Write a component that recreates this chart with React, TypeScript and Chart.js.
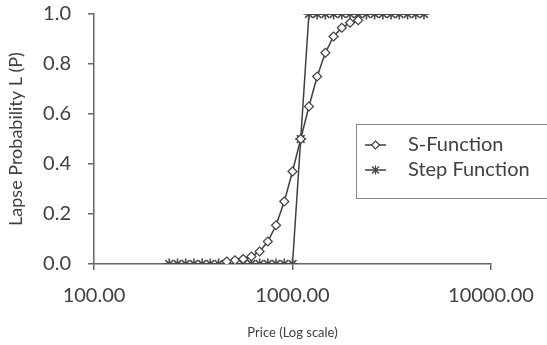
import React, { useEffect, useRef } from "react";
import { Chart, registerables } from "chart.js";

Chart.register(...registerables);

// Prices (log x axis)
const sPrices = [466.51, 513.16, 564.47, 620.92, 683.01, 751.31, 826.45, 909.09, 1000, 1100, 1210, 1331, 1464.1, 1610.51, 1771.56, 1948.72, 2143.59];
const sValues = [0.01, 0.015, 0.02, 0.03, 0.05, 0.09, 0.155, 0.25, 0.37, 0.5, 0.63, 0.75, 0.845, 0.91, 0.945, 0.965, 0.975];

const stepPrices = [239.39, 263.33, 289.66, 318.63, 350.49, 385.54, 424.1, 466.51, 513.16, 564.47, 620.92, 683.01, 751.31, 826.45, 909.09, 1000, 1100, 1210, 1331, 1464.1, 1610.51, 1771.56, 1948.72, 2143.59, 2357.95, 2593.74, 2853.12, 3138.43, 3452.27, 3797.5, 4177.25, 4594.97];
const stepValues = [0, 0, 0, 0, 0, 0, 0, 0, 0, 0, 0, 0, 0, 0, 0, 0, 0.5, 1, 1, 1, 1, 1, 1, 1, 1, 1, 1, 1, 1, 1, 1, 1];

const xTickValues = [100, 1000, 10000];
const seriesNames = ["S-Function", "Step Function"];
const xTitle = "Price (Log scale)";
const yTitle = "Lapse Probability L (P)";

const FONT = "Lato, 'Open Sans', sans-serif";
const TEXT = "#404040";
const AXIS = "#666666";
const LINE = "#404040";

const legendPlugin = {
  id: "boxLegend",
  afterDraw(chart: any) {
    const { ctx, chartArea } = chart;
    const left = chartArea.right - 135;
    const top = chartArea.top + 110;
    ctx.save();
    ctx.fillStyle = "#ffffff";
    ctx.fillRect(left, top, 220, 74);
    ctx.strokeStyle = "#888888";
    ctx.lineWidth = 1;
    ctx.strokeRect(left + 0.5, top + 0.5, 220, 74);
    const rows = [top + 21, top + 46];
    rows.forEach((y, i) => {
      ctx.strokeStyle = LINE;
      ctx.lineWidth = 1.5;
      ctx.beginPath();
      ctx.moveTo(left + 9, y);
      ctx.lineTo(left + 30, y);
      ctx.stroke();
      const cx = left + 19.5;
      ctx.lineWidth = 1.2;
      if (i === 0) {
        ctx.fillStyle = "#fff";
        ctx.beginPath();
        ctx.moveTo(cx, y - 4);
        ctx.lineTo(cx + 4, y);
        ctx.lineTo(cx, y + 4);
        ctx.lineTo(cx - 4, y);
        ctx.closePath();
        ctx.fill();
        ctx.stroke();
      } else {
        ctx.beginPath();
        ctx.moveTo(cx - 3.5, y - 3.5);
        ctx.lineTo(cx + 3.5, y + 3.5);
        ctx.moveTo(cx + 3.5, y - 3.5);
        ctx.lineTo(cx - 3.5, y + 3.5);
        ctx.moveTo(cx, y - 4.5);
        ctx.lineTo(cx, y + 4.5);
        ctx.stroke();
      }
      ctx.fillStyle = TEXT;
      ctx.font = `20px ${FONT}`;
      ctx.textBaseline = "middle";
      ctx.textAlign = "left";
      ctx.fillText(seriesNames[i], left + 52, y);
    });
    ctx.restore();
  },
};

export default function App() {
  const ref = useRef<HTMLCanvasElement>(null);
  useEffect(() => {
    if (!ref.current) return;
    const chart = new Chart(ref.current, {
      type: "line",
      data: {
        datasets: [
          {
            label: seriesNames[0],
            data: sPrices.map((x, i) => ({ x, y: sValues[i] })),
            borderColor: LINE,
            borderWidth: 1.5,
            pointStyle: "rectRot",
            pointRadius: 4.5,
            pointBackgroundColor: "#ffffff",
            pointBorderColor: LINE,
            pointBorderWidth: 1.2,
            tension: 0,
          },
          {
            label: seriesNames[1],
            data: stepPrices.map((x, i) => ({ x, y: stepValues[i] })),
            borderColor: LINE,
            borderWidth: 1.5,
            pointStyle: "star",
            pointRadius: 5.5,
            pointBorderColor: "#4a4a4a",
            pointBorderWidth: 1.6,
            tension: 0,
          },
        ],
      },
      options: {
        animation: false,
        responsive: true,
        maintainAspectRatio: false,
        layout: { autoPadding: false, padding: { top: 14, right: 56, left: 0, bottom: 0 } },
        plugins: { legend: { display: false }, tooltip: { enabled: false } },
        scales: {
          x: {
            type: "logarithmic",
            min: 100,
            max: 10000,
            afterBuildTicks: (scale: any) => {
              scale.ticks = xTickValues.map((v) => ({ value: v }));
            },
            afterFit: (scale: any) => {
              scale.height = 81;
              scale.paddingLeft = 0;
              scale.paddingRight = 0;
            },
            ticks: {
              autoSkip: false,
              maxRotation: 0,
              padding: 14,
              color: TEXT,
              font: { family: FONT, size: 20 },
              callback: (v: any) => Number(v).toFixed(2),
            },
            grid: { display: true, drawOnChartArea: false, drawTicks: true, tickLength: 6, color: AXIS, lineWidth: 1.5 },
            border: { display: true, color: AXIS, width: 1.5 },
            title: { display: true, text: xTitle, color: TEXT, font: { family: FONT, size: 13 }, padding: { top: 4, bottom: 4 } },
          },
          y: {
            min: 0,
            max: 1,
            afterFit: (scale: any) => {
              scale.width = 94;
              scale.paddingTop = 0;
              scale.paddingBottom = 0;
            },
            ticks: {
              stepSize: 0.2,
              padding: 17,
              color: TEXT,
              font: { family: FONT, size: 20 },
              callback: (v: any) => Number(v).toFixed(1),
            },
            grid: { display: true, drawOnChartArea: false, drawTicks: true, tickLength: 6, color: AXIS, lineWidth: 1.5 },
            border: { display: true, color: AXIS, width: 1.5 },
            title: { display: true, text: yTitle, color: TEXT, font: { family: FONT, size: 18 }, padding: { top: 5, bottom: 4 } },
          },
        },
      },
      plugins: [legendPlugin],
    } as any);
    return () => chart.destroy();
  }, []);
  return (
    <div style={{ position: "absolute", left: 0, top: 0, width: 547, height: 345, background: "#fff" }}>
      <canvas ref={ref} />
    </div>
  );
}
